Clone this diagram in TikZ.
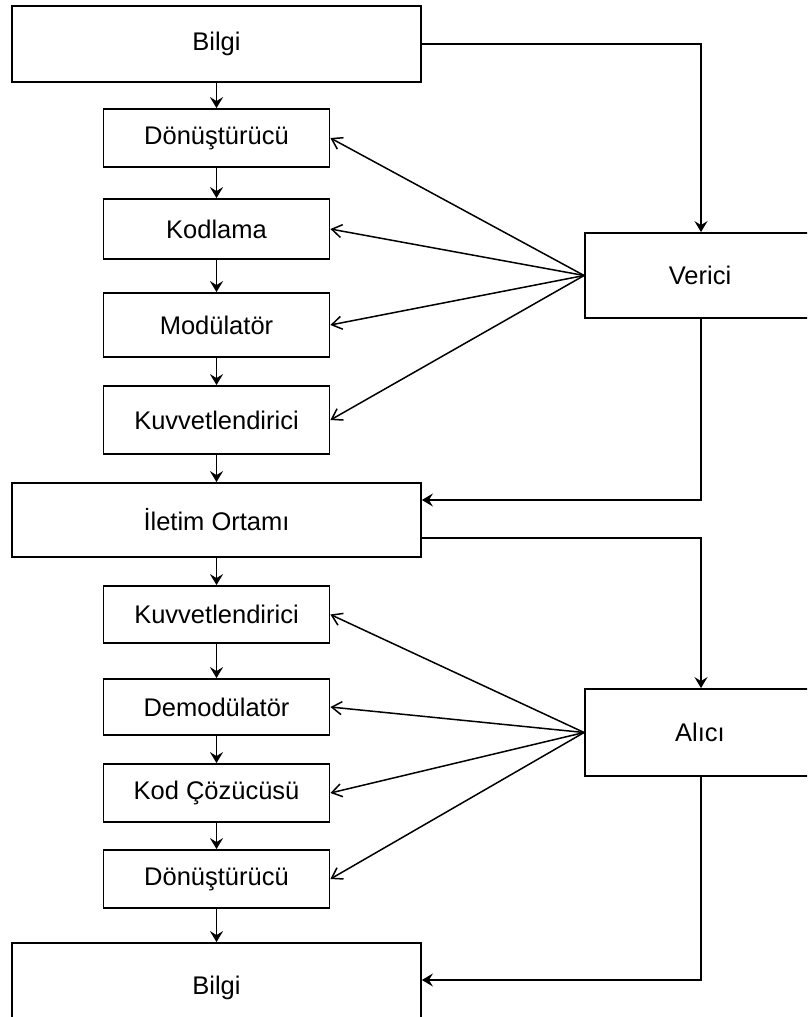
\documentclass[tikz,border=0pt]{standalone}
\usepackage{fontspec}
\setmainfont{Liberation Sans}
\usepackage{tikz}
\usetikzlibrary{arrows.meta}

\begin{document}
\begin{tikzpicture}[
    x=1pt, y=-1pt,
    block/.style={draw, line width=1.8pt, inner sep=0pt, minimum width=226pt,
                  font=\fontsize{25.5}{30}\selectfont, align=center},
    wide/.style={block, minimum width=409pt},
    side/.style={block, minimum width=250pt},
    flow/.style={-{Stealth[length=11pt,width=13pt,inset=4pt]}, line width=1.8pt},
    ctrl/.style={-{Straight Barb[length=10pt,width=13pt]}, line width=1.5pt}
  ]
    \useasboundingbox (0,0) rectangle (807,1017);
    \clip (0,0) rectangle (807,1017);

    % verici
    \node[wide, minimum height=76pt] (bilgiA) at (216.5,44) {Bilgi};
    \node[block, minimum height=58pt] (donA) at (216.5,138) {Dönüştürücü};
    \node[block, minimum height=60pt] (kod) at (216.5,229) {Kodlama};
    \node[block, minimum height=64pt] (mod) at (216.5,325) {Modülatör};
    \node[block, minimum height=68pt] (kuvA) at (216.5,420) {Kuvvetlendirici};
    \node[side, minimum height=85pt] (verici) at (710,275.5) {\hspace*{-20pt}Verici};

    % iletim
    \node[wide, minimum height=74pt] (iletim) at (216.5,520) {İletim Ortamı};

    % alici
    \node[block, minimum height=57pt] (kuvB) at (216.5,614.5) {Kuvvetlendirici};
    \node[block, minimum height=56pt] (demod) at (216.5,707) {Demodülatör};
    \node[block, minimum height=58pt] (cozucu) at (216.5,793) {Kod Çözücüsü};
    \node[block, minimum height=58pt] (donB) at (216.5,879) {Dönüştürücü};
    \node[wide, minimum height=90pt] (bilgiB) at (216.5,988) {Bilgi};
    \node[side, minimum height=87pt] (alici) at (710,732.5) {\hspace*{-20pt}Alıcı};

    % Arrows
    \draw[flow] (bilgiA) -- (donA);
    \draw[flow] (donA) -- (kod);
    \draw[flow] (kod) -- (mod);
    \draw[flow] (mod) -- (kuvA);
    \draw[flow] (kuvA) -- (iletim);
    \draw[flow] (iletim) -- (kuvB);
    \draw[flow] (kuvB) -- (demod);
    \draw[flow] (demod) -- (cozucu);
    \draw[flow] (cozucu) -- (donB);
    \draw[flow] (donB) -- (bilgiB);

    \draw[flow] (bilgiA.east) -| ([xshift=-9pt]verici.north);
    \draw[flow] ([xshift=-9pt]verici.south) |- ([yshift=20pt]iletim.east);
    \draw[flow] ([yshift=-18pt]iletim.east) -| ([xshift=-9pt]alici.north);
    \draw[flow] ([xshift=-9pt]alici.south) |- ([yshift=8pt]bilgiB.east);

    \foreach \b in {donA, kod, mod, kuvA}
      \draw[ctrl] (verici.west) -- (\b.east);
    \foreach \b in {kuvB, demod, cozucu, donB}
      \draw[ctrl] (alici.west) -- (\b.east);
  \end{tikzpicture}
\end{document}
